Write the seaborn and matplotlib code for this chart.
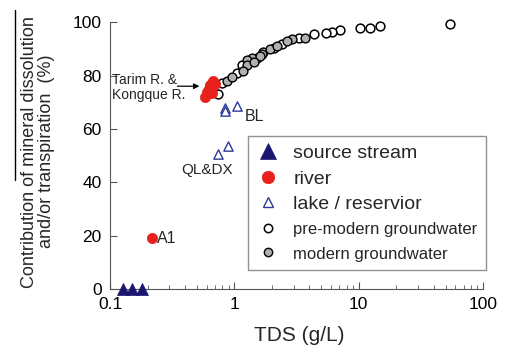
import matplotlib
matplotlib.use("Agg")
import matplotlib.pyplot as plt
import seaborn as sns
import pandas as pd
from matplotlib.lines import Line2D

sns.set_style("ticks")
plt.rcParams['font.family'] = ['Liberation Sans', 'DejaVu Sans']

# === Data ===
source_tds = [0.127, 0.15, 0.18]
source_pct = [0, 0, 0]

river_tds = [0.218, 0.58, 0.60, 0.62, 0.64, 0.67, 0.70, 0.66]
river_pct = [19, 72, 74, 75, 76.5, 78, 77, 73.5]

lake_tds = [0.84, 1.05, 0.84, 0.74, 0.89]
lake_pct = [68, 68.7, 66.8, 50.7, 53.7]

pre_tds = [54, 14.9, 12.3, 10.2, 7.1, 6.1, 5.5, 4.4, 2.4, 1.7, 1.52, 1.15, 1.05,
           0.79, 0.74, 3.3, 2.1, 1.35]
pre_pct = [99.3, 98.5, 98, 98, 97, 96.5, 96, 95.5, 92, 89, 86.6, 84, 81,
           77.2, 73, 94, 90.5, 86]

mod_tds = [3.7, 2.9, 2.65, 1.93, 1.66, 1.39, 1.27, 1.27, 1.18, 0.87, 0.95,
           1.6, 2.2, 1.45]
mod_pct = [94, 93.6, 93, 90, 88, 86.6, 85.8, 84, 81.7, 78, 79.5, 87.5, 91, 85]

df = pd.concat([
    pd.DataFrame({"tds": source_tds, "pct": source_pct, "type": "source stream"}),
    pd.DataFrame({"tds": river_tds, "pct": river_pct, "type": "river"}),
    pd.DataFrame({"tds": lake_tds, "pct": lake_pct, "type": "lake / reservior"}),
    pd.DataFrame({"tds": pre_tds, "pct": pre_pct, "type": "pre-modern groundwater"}),
    pd.DataFrame({"tds": mod_tds, "pct": mod_pct, "type": "modern groundwater"}),
])

styles = {
    "pre-modern groundwater": dict(marker="o", s=40, facecolor="white", edgecolor="black", linewidth=1.1),
    "modern groundwater": dict(marker="o", s=40, facecolor="#b0b0b0", edgecolor="black", linewidth=1.0),
    "river": dict(marker="o", s=55, facecolor="#e8211d", edgecolor="#e8211d", linewidth=0.5),
    "lake / reservior": dict(marker="^", s=45, facecolor="white", edgecolor="#2b3a9a", linewidth=1.0),
    "source stream": dict(marker="^", s=75, facecolor="#1a1670", edgecolor="#1a1670", linewidth=0.5),
}

fig = plt.figure(figsize=(5.1, 3.52), dpi=100)
ax = fig.add_axes([0.216, 0.179, 0.731, 0.758])

for name, st in styles.items():
    sub = df[df["type"] == name]
    sns.scatterplot(data=sub, x="tds", y="pct", ax=ax, clip_on=False, zorder=3, **st)

ax.set_xscale("log")
ax.set_xlim(0.1, 100)
ax.set_ylim(0, 100)
ax.set_yticks([0, 20, 40, 60, 80, 100])
ax.set_xticks([0.1, 1, 10, 100])
ax.set_xticklabels(["0.1", "1", "10", "100"])
ax.tick_params(which="both", direction="in", colors="#555555", labelcolor="black", labelsize=12.5)
ax.tick_params(which="major", length=5)
ax.tick_params(which="minor", length=3)
ax.tick_params(axis="x", pad=6)
ax.tick_params(axis="y", pad=6)
for side in ["top", "right"]:
    ax.spines[side].set_visible(False)
for side in ["left", "bottom"]:
    ax.spines[side].set_color("#555555")

ax.set_xlabel("TDS (g/L)", fontsize=15)
ax.xaxis.set_label_coords(0.507, -0.139)
ax.set_ylabel("Contribution of mineral dissolution\nand/or transpiration  (%)", fontsize=13, linespacing=1.05)
ax.yaxis.set_label_coords(-0.147, 0.515)

# annotations
ax.annotate("", xy=(0.55, 76), xytext=(0.33, 76),
            arrowprops=dict(arrowstyle="-|>", color="black", lw=0.9, mutation_scale=8))
ax.text(0.104, 75.5, "Tarim R. &\nKongque R.", fontsize=10, va="center", ha="left", linespacing=1.1)
ax.text(1.2, 64.5, "BL", fontsize=11.5, va="center")
ax.text(0.37, 44.5, "QL&DX", fontsize=11, va="center")
ax.text(0.24, 19, "A1", fontsize=11.5, va="center")

# legend
order = ["source stream", "river", "lake / reservior", "pre-modern groundwater", "modern groundwater"]
msize = {"source stream": 11, "river": 9, "lake / reservior": 7,
         "pre-modern groundwater": 6, "modern groundwater": 6}
handles = []
for name in order:
    st = styles[name]
    handles.append(Line2D([], [], linestyle="none", marker=st["marker"], markersize=msize[name],
                          markerfacecolor=st["facecolor"], markeredgecolor=st["edgecolor"],
                          markeredgewidth=st["linewidth"]))
leg = ax.legend(handles, order, loc="lower right", bbox_to_anchor=(1.035, 0.033), frameon=True,
                fancybox=False, edgecolor="#777777", fontsize=14, handletextpad=0.7,
                labelspacing=0.4, borderpad=0.45, handlelength=1.2)
leg.get_frame().set_linewidth(1.0)
for t in leg.get_texts()[3:]:
    t.set_fontsize(12)

# overline above "mineral dissolution"
fig.add_artist(Line2D([0.029, 0.029], [0.489, 0.972], color="black", lw=1.0))

fig.savefig("out.png", dpi=100)
